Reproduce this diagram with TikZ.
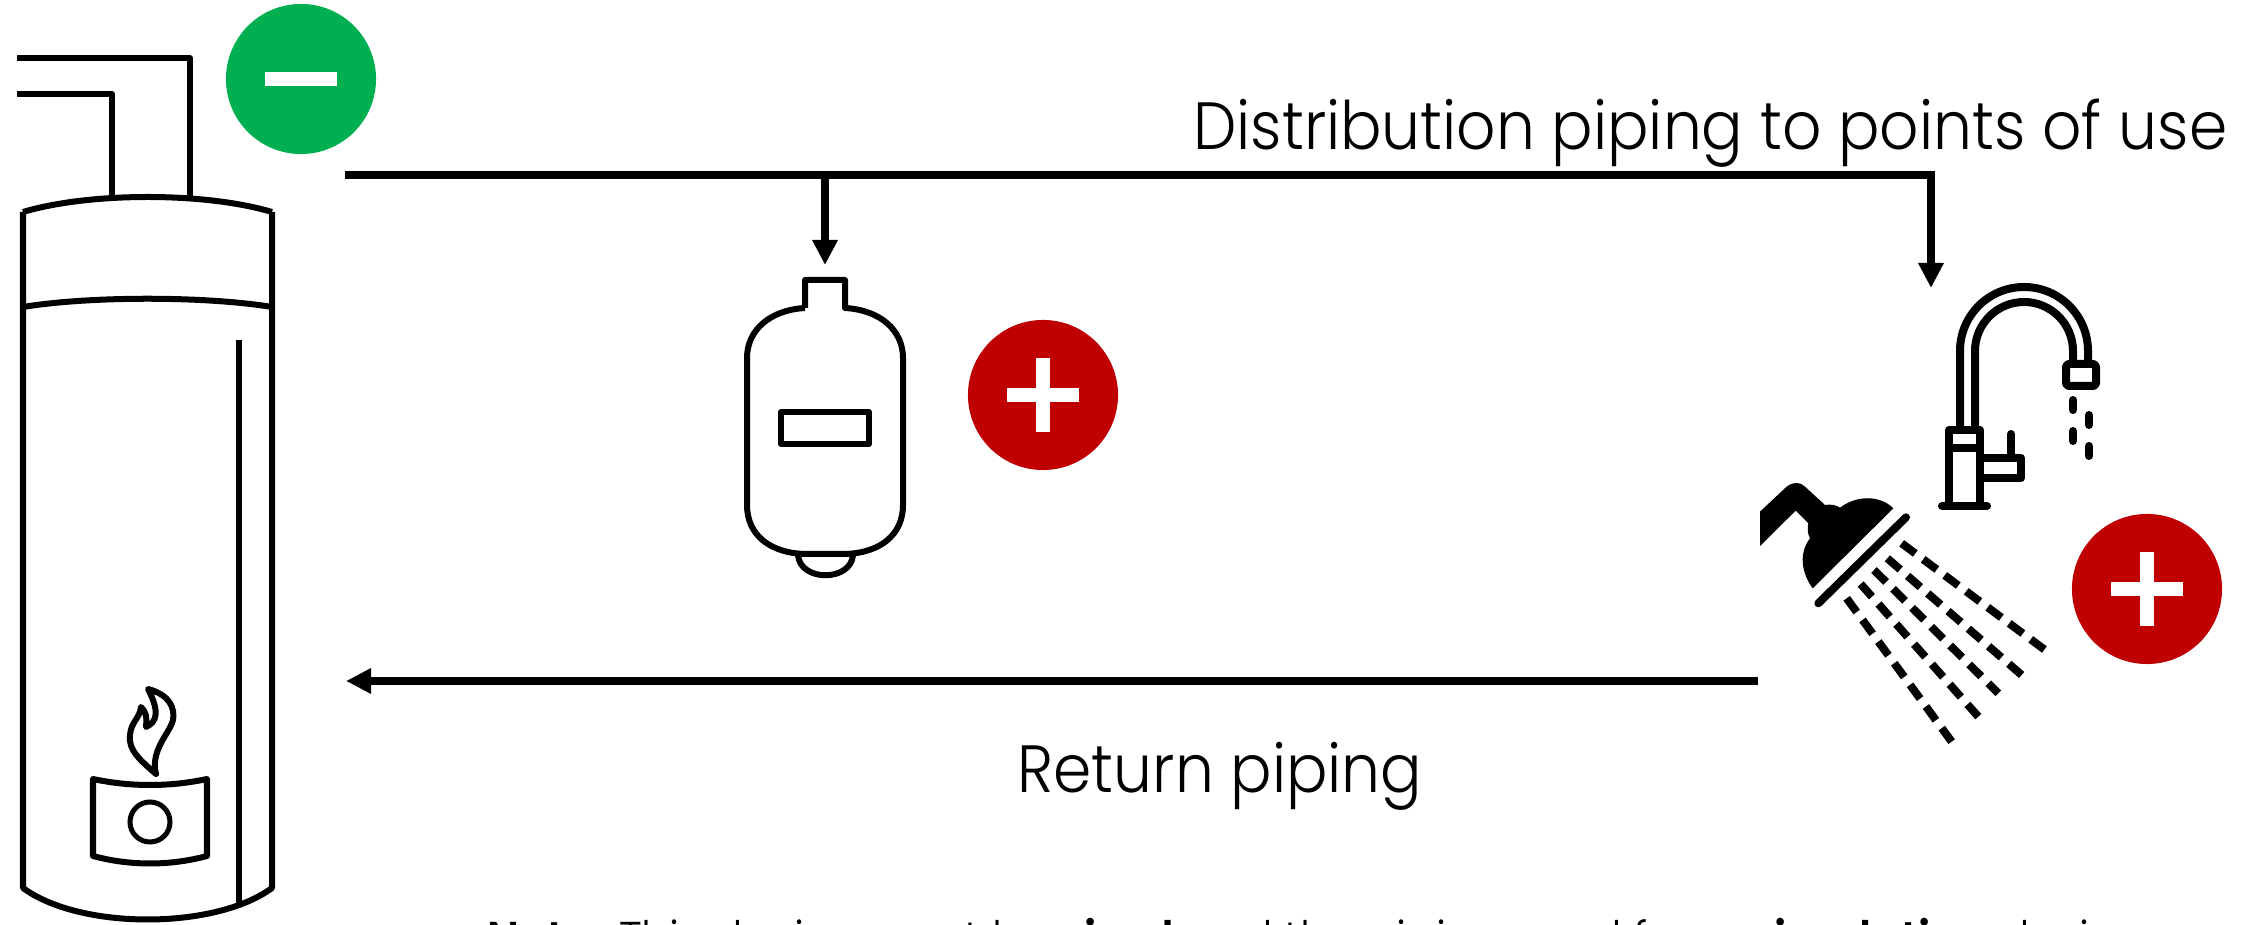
\documentclass[tikz,border=0pt]{standalone}
\usepackage{fontspec}
\setmainfont{Poppins}[UprightFont=* Light,BoldFont=* SemiBold,FakeStretch=.92]
\usepackage{tikz}
\usetikzlibrary{arrows.meta,positioning}
\definecolor{okgreen}{HTML}{00B050}
\definecolor{addred}{HTML}{C00000}
\tikzset{%
  >={Triangle[length=.25cm,width=.24cm]},
  outline/.style  = { draw, line width=.06cm, line join=round },
  heavy/.style    = { draw, line width=.08cm, line cap=round, line join=round },
  pipe/.style     = { draw, line width=.08cm },
  badge/.style    = { circle, minimum size=1.5cm, inner sep=0pt },
  spray/.style    = { draw, line width=.08cm, dash pattern=on .17cm off .098cm }
}
\begin{document}
\begin{tikzpicture}[x=.01cm,y=-.01cm,
                    lbl/.style={inner sep=0pt,font=\fontsize{19}{22}\selectfont}]
  \useasboundingbox (0,0) rectangle (2259,925);

  % heater
  \path[outline] (17,58) -- (190,58) -- (190,197);
  \path[outline] (17,94) -- (112,94) -- (112,197);
  \path[outline] (23,212) .. controls (90,192) and (205,192) .. (272,212);
  \path[outline] (23,307) .. controls (90,296) and (205,296) .. (272,307);
  \path[outline] (23,212) -- (23,888) .. controls (80,930) and (215,930) .. (272,888) -- (272,212);
  \path[outline] (239,340) -- (239,907);
  \path[outline] (93,779) .. controls (130,787) and (170,787) .. (207,779) -- (207,856)
    .. controls (170,866) and (130,866) .. (93,856) -- cycle;
  \node[draw,circle,line width=.05cm,minimum size=.4cm,inner sep=0pt] (burner) at (150,822) {};
  \path[outline] (148,689) .. controls (170,695) and (175,708) .. (173,720)
    .. controls (170,733) and (150,750) .. (156,774)
    .. controls (140,760) and (128,750) .. (130,735)
    .. controls (131,722) and (140,718) .. (141,707)
    .. controls (146,712) and (147,716) .. (146,727)
    .. controls (157,722) and (160,712) .. (148,689) -- cycle;

  % badges
  \node[badge,fill=okgreen] (minus) at (301,79) {};
  \node[badge,fill=addred] (plustank) at (1043,395) {};
  \node[badge,fill=addred] (plusfixture) at (2147,589) {};
  \foreach \b in {minus,plustank,plusfixture}
    \fill[white] ([xshift=-.36cm,yshift=-.07cm]\b.center) rectangle ([xshift=.36cm,yshift=.07cm]\b.center);
  \foreach \b in {plustank,plusfixture}
    \fill[white] ([xshift=-.07cm,yshift=-.37cm]\b.center) rectangle ([xshift=.07cm,yshift=.37cm]\b.center);

  % expansion tank
  \path[outline] (805,308) -- (805,280) -- (845,280) -- (845,308)
    .. controls (880,310) and (903,330) .. (903,358) -- (903,505)
    .. controls (903,535) and (880,553) .. (845,554) -- (805,554)
    .. controls (770,553) and (747,535) .. (747,505) -- (747,358)
    .. controls (747,330) and (770,310) .. (805,308);
  \path[outline] (798,555) .. controls (800,582) and (851,582) .. (853,555);
  \path[outline] (781,412) rectangle (869,444);

  % faucet
  \path[heavy,line cap=butt] (1960,430) -- (1960,351) arc[start angle=180,end angle=360,radius=64] -- (2088,365);
  \path[heavy,line cap=butt] (1975,430) -- (1975,351) arc[start angle=180,end angle=360,radius=49] -- (2073,365);
  \path[heavy,rounded corners=.03cm] (2066,364) rectangle (2096,386);
  \path[heavy] (1949,506) -- (1949,430) -- (1980,430) -- (1980,506);
  \path[heavy,line cap=butt] (1949,448) -- (1980,448);
  \path[heavy] (1942,506) -- (1987,506);
  \path[heavy] (1980,458) -- (2021,458) -- (2021,478) -- (1980,478);
  \path[heavy] (2011,434) -- (2011,456);
  \path[heavy] (2073,400) -- (2073,410);
  \path[heavy] (2073,431) -- (2073,441);
  \path[heavy] (2089,415) -- (2089,425);
  \path[heavy] (2089,446) -- (2089,456);

  % shower
  \begin{scope}[shift={(1730,460)},scale=1/3]
    \fill (90,155) -- (170,80) .. controls (190,65) and (210,65) .. (225,80) -- (285,135)
      .. controls (300,132) and (320,135) .. (330,143)
      .. controls (380,105) and (450,105) .. (490,145) -- (248,385)
      .. controls (215,340) and (205,280) .. (240,235)
      .. controls (232,220) and (232,205) .. (235,190) -- (197,152) -- (90,258) -- cycle;
    \path[draw,line width=.08cm,line cap=round] (265,430) -- (528,172);
    \foreach \xa/\ya/\xb/\yb in {515/250/945/570,472/295/875/645,432/330/805/700,392/372/745/770,350/415/665/845}
      \path[spray] (\xa,\ya) -- (\xb,\yb);
  \end{scope}

  % piping
  \coordinate (supply) at (345,175);
  \coordinate (tee) at (825,175);
  \coordinate (corner) at (1931,175);
  \coordinate (tankin) at (825,265);
  \coordinate (faucetin) at (1931,288);
  \coordinate (returnout) at (1758,681);
  \coordinate (returnin) at (346,681);
  \path[pipe] (supply) -- (corner);
  \path[pipe,->] (tee) -- (tankin);
  \path[pipe,->] ([yshift=.04cm]corner) -- (faucetin);
  \path[pipe,->] (returnout) -- (returnin);

  % labels
  \node[lbl,anchor=base east] (distlabel) at (2228,150) {Distribution piping to points of use};
  \node[lbl,anchor=base] (returnlabel) at (1220,793) {Return piping};
  \node[inner sep=0pt,anchor=base west,font=\fontsize{13.5}{16}\selectfont] (note) at (487,956)
    {\textbf{Note:} This device must be \textbf{sized} and the piping used for \textbf{recirculating} design};
\end{tikzpicture}
\end{document}
